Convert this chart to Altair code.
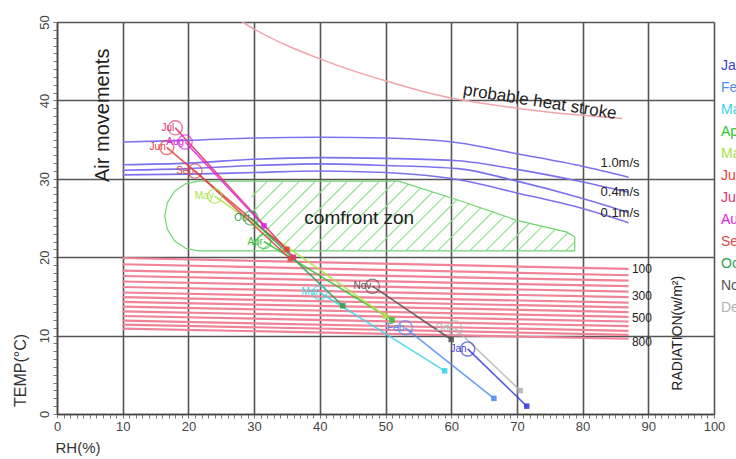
import altair as alt
import pandas as pd
import numpy as np

# ---------------- data ----------------
months = ["Jan", "Feb", "Mar", "Apr", "May", "Jun", "Jul", "Aug", "Sep", "Oct", "Nov", "Dec"]
month_colors = ["#3c3cdc", "#4d8fef", "#3fd3e6", "#33c133", "#a9e345", "#eb3b3b",
                "#e0336b", "#e022e0", "#d24a4a", "#2f9e4f", "#555555", "#b4b4b4"]
rh_low = [62.5, 53.0, 40.0, 31.5, 24.0, 16.7, 18.0, 19.5, 21.0, 29.5, 48.0, 60.5]
temp_high = [8.3, 11.0, 15.5, 22.0, 27.8, 34.0, 36.5, 34.7, 31.0, 25.0, 16.3, 11.0]
rh_high = [71.5, 66.5, 59.0, 51.0, 50.0, 35.0, 36.0, 31.5, 35.5, 43.5, 60.0, 70.5]
temp_low = [1.0, 2.0, 5.5, 12.0, 12.5, 21.0, 20.0, 24.0, 19.8, 13.8, 9.5, 3.0]

heat_rh = [28.2, 30, 35, 40, 45, 50, 55, 60, 65, 70, 75, 80, 86]
heat_t = [50, 49.1, 47.0, 45.3, 43.8, 42.5, 41.3, 40.3, 39.6, 39.0, 38.5, 38.1, 37.7]

air_rh = [10, 20, 30, 40, 50, 61, 70, 80, 87]
air_lines = {
    "a1": [34.7, 34.9, 35.2, 35.3, 35.2, 34.6, 33.2, 31.6, 30.2],
    "a2": [31.8, 32.0, 32.5, 32.7, 32.6, 32.3, 31.2, 29.6, 28.3],
    "a3": [31.1, 31.3, 31.7, 31.9, 31.7, 31.3, 29.7, 27.5, 25.7],
    "a4": [30.5, 30.6, 30.8, 31.0, 30.8, 29.9, 28.2, 26.2, 24.4],
}
air_label_text = ["1.0m/s", "0.4m/s", "0.1m/s"]
air_label_t = [32.0, 28.3, 25.6]

rad_left = [19.9, 19.1, 18.3, 17.6, 16.9, 16.2, 15.5, 14.9, 14.3, 13.7, 13.1, 12.5, 11.9, 11.4, 10.9]
rad_right = [18.5, 17.7, 17.0, 16.3, 15.6, 14.9, 14.2, 13.6, 13.0, 12.4, 11.8, 11.2, 10.6, 10.1, 9.6]
rad_label_text = ["100", "300", "500", "800"]
rad_label_t = [18.5, 15.1, 12.2, 9.2]

# comfort zone outline
cz_rh = [21.5, 19.55, 17.89, 16.79, 16.4, 16.79, 17.89, 19.55, 21.5, 78.8, 78.8, 77.6, 70.0, 61.0, 52.0, 21.5]
cz_t = [29.7, 29.36, 28.4, 26.95, 25.25, 23.55, 22.1, 21.14, 20.8, 20.8, 22.6, 23.2, 24.7, 27.3, 29.7, 29.7]
hatch_top_rh = [29.6, 52.0, 61.0, 70.0, 77.6, 78.8]
hatch_top_t = [29.7, 29.7, 27.3, 24.7, 23.2, 22.6]
hatch_bottom = 20.8

# ---------------- geometry ----------------
W, H = 657, 392
FONT = "Liberation Sans"

k = (W / 100.0) / (H / 50.0)  # 45 degree hatch in pixel space
step = 16 / (W / 100.0)
segs = []
c = hatch_top_rh[0] - (hatch_top_t[0] - hatch_bottom) / k
while c < hatch_top_rh[-1]:
    xs0 = max(c, hatch_top_rh[0])
    grid = np.linspace(xs0, hatch_top_rh[-1], 3000)
    yl = hatch_bottom + k * (grid - c)
    top = np.interp(grid, hatch_top_rh, hatch_top_t)
    ok = np.where(yl <= top)[0]
    if len(ok) > 1:
        i0, i1 = ok[0], ok[-1]
        segs.append({"x": grid[i0], "y": yl[i0], "x2": grid[i1], "y2": yl[i1]})
    c += step
hatch_df = pd.DataFrame(segs)

months_df = pd.DataFrame({"month": months, "rh1": rh_low, "t1": temp_high,
                          "rh2": rh_high, "t2": temp_low})
heat_df = pd.DataFrame({"rh": heat_rh, "t": heat_t})
air_df = pd.DataFrame([{"line": k2, "rh": r, "t": t} for k2, v in air_lines.items()
                       for r, t in zip(air_rh, v)])
rad_df = pd.DataFrame({"x": [10] * len(rad_left), "y": rad_left,
                       "x2": [87] * len(rad_left), "y2": rad_right})
cz_df = pd.DataFrame({"rh": cz_rh, "t": cz_t, "o": list(range(len(cz_rh)))})

xs = alt.Scale(domain=[0, 100], nice=False, zero=False)
ys = alt.Scale(domain=[0, 50], nice=False, zero=False)
color_scale = alt.Scale(domain=months, range=month_colors)

maj10 = "datum.value % 10 === 0"
xaxis = alt.Axis(values=list(range(0, 101)), title="RH(%)", grid=True,
                 gridColor="#555555", gridWidth=1.6,
                 gridOpacity={"condition": {"test": maj10, "value": 1}, "value": 0},
                 labelExpr="datum.value % 10 === 0 ? datum.label : ''",
                 labelOverlap=False, labelFlush=False, tickSize=4, tickColor="#777",
                 tickWidth=1, domainColor="#444", domainWidth=1.5,
                 labelFont=FONT, labelFontSize=13, labelColor="#444", labelPadding=2,
                 titleX=-2, titleY=33, titleAlign="left", titleBaseline="middle",
                 titleFont=FONT, titleFontSize=15, titleFontWeight="normal", titleColor="#333")
yaxis = alt.Axis(values=list(range(0, 51)), title="TEMP(°C)", grid=True,
                 gridColor="#555555", gridWidth=1.6,
                 gridOpacity={"condition": {"test": maj10, "value": 1}, "value": 0},
                 labelExpr="datum.value % 10 === 0 ? datum.label : ''",
                 labelOverlap=False, labelFlush=False, tickSize=4, tickColor="#777",
                 tickWidth=1, domainColor="#444", domainWidth=1.5,
                 labelFont=FONT, labelFontSize=13, labelColor="#444", labelPadding=2,
                 labelAngle=270, labelAlign="center", labelBaseline="bottom",
                 titleAngle=270, titleX=-37, titleY=348, titleAlign="center",
                 titleBaseline="middle", titleFont=FONT, titleFontSize=16,
                 titleFontWeight="normal", titleColor="#333")


def X(f):
    return alt.X(f, type="quantitative", scale=xs, axis=xaxis)


def Y(f):
    return alt.Y(f, type="quantitative", scale=ys, axis=yaxis)


rad = alt.Chart(rad_df).mark_rule(color="#f08397", strokeWidth=2.2).encode(
    x=X("x"), y=Y("y"), x2="x2", y2="y2")

heat = alt.Chart(heat_df).mark_line(color="#f2a3ab", strokeWidth=1.5, interpolate="monotone").encode(
    x=X("rh"), y=Y("t"))

air = alt.Chart(air_df).mark_line(color="#7d72ee", strokeWidth=1.6, interpolate="monotone").encode(
    x=X("rh"), y=Y("t"), detail="line:N")

hatch = alt.Chart(hatch_df).mark_rule(color="#8fe68f", strokeWidth=1.2).encode(
    x=X("x"), y=Y("y"), x2="x2", y2="y2")

cz = alt.Chart(cz_df).mark_line(color="#6fd46f", strokeWidth=1.2).encode(
    x=X("rh"), y=Y("t"), order="o:Q")

legend = alt.Legend(orient="none", legendX=650, legendY=37, title=None,
                    symbolOpacity=0, symbolSize=0, symbolStrokeWidth=0,
                    labelOffset=0, labelFont=FONT, labelFontSize=14, rowPadding=8,
                    labelColor={"expr": "scale('color', datum.value)"})

mlines = alt.Chart(months_df).mark_rule(strokeWidth=1.6, opacity=0.85).encode(
    x=X("rh1"), y=Y("t1"), x2="rh2", y2="t2",
    color=alt.Color("month:N", scale=color_scale, legend=legend))

msq = alt.Chart(months_df).mark_square(size=30, opacity=0.9).encode(
    x=X("rh2"), y=Y("t2"), color=alt.Color("month:N", scale=color_scale, legend=None))

mcirc = alt.Chart(months_df).mark_point(shape="circle", filled=False, size=200, strokeWidth=1.3).encode(
    x=X("rh1"), y=Y("t1"), color=alt.Color("month:N", scale=color_scale, legend=None))

mlab = alt.Chart(months_df).mark_text(align="right", baseline="middle", dx=-1, fontSize=10, font=FONT).encode(
    x=X("rh1"), y=Y("t1"), text="month:N",
    color=alt.Color("month:N", scale=color_scale, legend=None))

ann_df = pd.DataFrame({
    "txt": ["Air movements", "probable heat stroke", "comfront zon", "RADIATION(w/m²)"],
    "rh": [7.0, 73.5, 46.0, 94.5],
    "t": [38.1, 39.8, 25.0, 10.3],
})


def ann(i, **kw):
    return alt.Chart(ann_df.iloc[[i]]).mark_text(font=FONT, color="#222", **kw).encode(
        x=X("rh"), y=Y("t"), text="txt:N")


t_air = ann(0, angle=270, fontSize=20, align="center", baseline="middle")
t_heat = ann(1, angle=9, fontSize=17, align="center", baseline="middle")
t_cz = ann(2, fontSize=19, align="center", baseline="middle")
t_rad = ann(3, angle=270, fontSize=14, align="center", baseline="middle")

airlab = alt.Chart(pd.DataFrame({"txt": air_label_text, "t": air_label_t, "rh": [85.7] * 3})).mark_text(
    font=FONT, fontSize=13, color="#222", align="center", baseline="middle").encode(
    x=X("rh"), y=Y("t"), text="txt:N")

radlab = alt.Chart(pd.DataFrame({"txt": rad_label_text, "t": rad_label_t, "rh": [87.5] * 4})).mark_text(
    font=FONT, fontSize=12, color="#222", align="left", baseline="middle").encode(
    x=X("rh"), y=Y("t"), text="txt:N")

chart = alt.layer(rad, heat, air, hatch, cz, mlines, msq, mcirc, mlab,
                  t_air, t_heat, t_cz, t_rad, airlab, radlab).properties(
    width=W, height=H,
    padding={"left": 57, "top": 22, "right": 22, "bottom": 45},
    autosize=alt.AutoSizeParams(type="none"),
    background="white",
).configure_view(stroke=None)

chart.save("out.html", embed_options={"renderer": "svg", "actions": False})
